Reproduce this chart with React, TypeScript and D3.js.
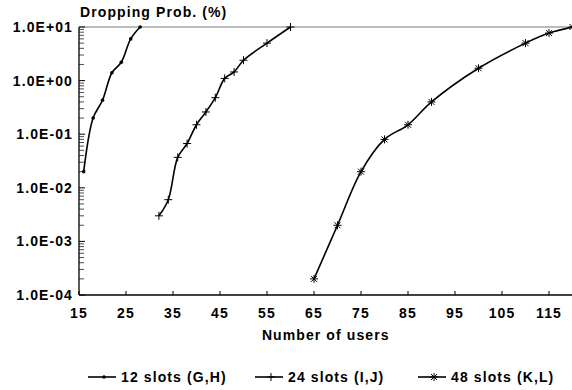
import React from "react";
import * as d3 from "d3";

const xs12 = [16, 18, 20, 22, 24, 26, 28];
const ys12 = [0.02, 0.2, 0.43, 1.4, 2.2, 6, 10];
const xs24 = [32, 34, 36, 38, 40, 42, 44, 46, 48, 50, 55, 60];
const ys24 = [0.003, 0.006, 0.037, 0.067, 0.15, 0.26, 0.48, 1.1, 1.45, 2.4, 5, 10];
const xs48 = [65, 70, 75, 80, 85, 90, 100, 110, 115, 120];
const ys48 = [0.0002, 0.002, 0.02, 0.08, 0.15, 0.4, 1.7, 5, 7.7, 10];
const xTicks = [15, 25, 35, 45, 55, 65, 75, 85, 95, 105, 115];
const yTicks = [1e1, 1e0, 1e-1, 1e-2, 1e-3, 1e-4];
const yTickLabels = ["1.0E+01", "1.0E+00", "1.0E-01", "1.0E-02", "1.0E-03", "1.0E-04"];
const seriesNames = ["12 slots (G,H)", "24 slots (I,J)", "48 slots (K,L)"];
const markerKinds = ["dot", "plus", "star"];

const W = 572, H = 390;
const left = 79, right = 572.5, top = 27, bottom = 295;
const FONT = "'Liberation Sans', Arial, sans-serif";
const FS = 14;
const LS = 1.1;

function Marker({ kind, x, y }: { kind: string; x: number; y: number }) {
  if (kind === "dot") return <circle cx={x} cy={y} r={1.8} fill="#000" />;
  if (kind === "plus")
    return (
      <g stroke="#000" strokeWidth={1}>
        <line x1={x - 4} y1={y} x2={x + 4} y2={y} />
        <line x1={x} y1={y - 4} x2={x} y2={y + 4} />
      </g>
    );
  return (
    <g stroke="#000" strokeWidth={1}>
      <line x1={x - 4} y1={y} x2={x + 4} y2={y} />
      <line x1={x} y1={y - 4} x2={x} y2={y + 4} />
      <line x1={x - 3} y1={y - 3} x2={x + 3} y2={y + 3} />
      <line x1={x - 3} y1={y + 3} x2={x + 3} y2={y - 3} />
    </g>
  );
}

export default function App() {
  const x = d3.scaleLinear().domain([15, 120]).range([left, right]);
  const y = d3.scaleLog().domain([1e-4, 1e1]).range([bottom, top]);
  const line = d3
    .line<[number, number]>()
    .x((d) => x(d[0]))
    .y((d) => y(d[1]))
    .curve(d3.curveCatmullRom.alpha(0.5));
  const series = [
    xs12.map((v, i) => [v, ys12[i]] as [number, number]),
    xs24.map((v, i) => [v, ys24[i]] as [number, number]),
    xs48.map((v, i) => [v, ys48[i]] as [number, number]),
  ];
  const minor: number[] = [];
  for (let e = -4; e < 1; e++) for (let m = 2; m <= 9; m++) minor.push(m * Math.pow(10, e));

  const legendX = [88, 255, 418];
  const txt = { fontFamily: FONT, fontWeight: "bold" as const, fontSize: FS, letterSpacing: LS };

  return (
    <svg width={W} height={H} style={{ position: "absolute", left: 0, top: 0 }}>
      <rect width={W} height={H} fill="#fff" />
      <text x={80} y={17} {...txt}>
        Dropping Prob. (%)
      </text>
      <line x1={left} y1={top} x2={left} y2={bottom} stroke="#000" strokeWidth={1.3} />
      <line x1={left} y1={bottom} x2={W} y2={bottom} stroke="#000" strokeWidth={1.3} />
      <line x1={left} y1={top} x2={W} y2={top} stroke="#555" strokeWidth={0.8} />
      {minor.map((v, i) => (
        <line key={i} x1={left} x2={left + 5} y1={y(v)} y2={y(v)} stroke="#000" strokeWidth={0.7} />
      ))}
      {yTicks.map((v, i) => (
        <g key={i}>
          <line x1={left} x2={left + 6} y1={y(v)} y2={y(v)} stroke="#000" strokeWidth={1} />
          <text x={left - 6} y={y(v) + 5} textAnchor="end" {...txt}>
            {yTickLabels[i]}
          </text>
        </g>
      ))}
      {xTicks.map((v, i) => (
        <g key={i}>
          <line x1={x(v)} x2={x(v)} y1={bottom} y2={bottom - 4} stroke="#000" strokeWidth={1} />
          <text x={x(v)} y={bottom + 23} textAnchor="middle" {...txt}>
            {v}
          </text>
        </g>
      ))}
      <text x={x(67.5)} y={340} textAnchor="middle" {...txt}>
        Number of users
      </text>
      {series.map((s, si) => (
        <g key={si}>
          <path d={line(s) || ""} fill="none" stroke="#000" strokeWidth={1.6} />
          {s.map((d, j) => (
            <Marker key={j} kind={markerKinds[si]} x={x(d[0])} y={y(d[1])} />
          ))}
        </g>
      ))}
      {seriesNames.map((n, i) => (
        <g key={i}>
          <line x1={legendX[i]} x2={legendX[i] + 28} y1={377} y2={377} stroke="#000" strokeWidth={1.6} />
          <Marker kind={markerKinds[i]} x={legendX[i] + 16} y={377} />
          <text x={legendX[i] + 33} y={382} {...txt}>
            {n}
          </text>
        </g>
      ))}
    </svg>
  );
}
